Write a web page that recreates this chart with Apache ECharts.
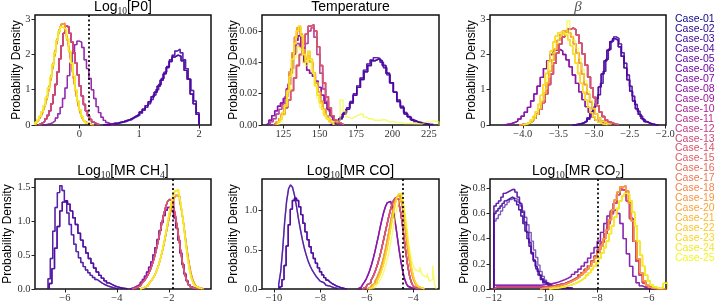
<!DOCTYPE html>
<html><head><meta charset="utf-8">
<script src="https://cdn.jsdelivr.net/npm/echarts@6/dist/echarts.min.js"></script>
<style>html,body{margin:0;padding:0;background:#fff}#c{width:718px;height:306px}</style>
</head><body><div id="c"></div>
<script>
// ---------------- DATA ----------------
const CASES = ['Case-01','Case-02','Case-03','Case-04','Case-05','Case-06','Case-07','Case-08','Case-09','Case-10','Case-11','Case-12','Case-13','Case-14','Case-15','Case-16','Case-17','Case-18','Case-19','Case-20','Case-21','Case-22','Case-23','Case-24','Case-25'];
const CASE_COLORS = ['#0d0887','#230690','#380599','#4b03a0','#5c01a4','#6d01a8','#7c07a6','#8c0ca4','#9a179d','#a82395','#b62f8c','#c13b82','#cc4778','#d5536f','#dd5f66','#e56c5c','#ec7953','#f38749','#f79540','#fba338','#fcb330','#fcc429','#fad524','#f5e723','#f0f921'];

// Log10[P0] histograms (bin start, bin width, densities)
const P0_F1 = {start:0.40, width:0.05, density:[0.01,0.02,0.03,0.05,0.06,0.08,0.10,0.13,0.16,0.20,0.25,0.30,0.37,0.45,0.55,0.66,0.80,0.93,1.10,1.27,1.45,1.63,1.80,1.93,1.98,1.95,1.82,1.55,1.30,0.88,0.60,0.30]};
const P0_F2 = {start:0.47, width:0.045, density:[0.01,0.02,0.03,0.04,0.06,0.08,0.10,0.13,0.15,0.20,0.24,0.28,0.34,0.42,0.50,0.60,0.72,0.85,1.00,1.15,1.32,1.50,1.66,1.85,1.98,2.10,2.15,2.05,1.85,1.60,1.30,0.98,0.68,0.35]};
const P0_B  = {start:-0.60, width:0.04, density:[0.01,0.02,0.04,0.07,0.12,0.20,0.32,0.50,0.75,1.05,1.40,1.75,2.05,2.28,2.38,2.35,2.20,1.85,1.60,1.32,1.00,0.75,0.52,0.35,0.22,0.13,0.07,0.04,0.02,0.01]};
const P0_CM = {start:-0.68, width:0.034, density:[0.03,0.06,0.10,0.17,0.27,0.40,0.60,0.85,1.15,1.50,1.88,2.25,2.60,2.80,2.78,2.60,2.35,2.05,1.75,1.42,1.10,0.82,0.58,0.40,0.26,0.16,0.09,0.05,0.025,0.01]};
const P0_CO = {start:-0.72, width:0.032, density:[0.06,0.12,0.20,0.30,0.45,0.62,0.85,1.12,1.42,1.75,2.10,2.42,2.68,2.85,2.88,2.75,2.50,2.20,1.85,1.50,1.15,0.82,0.55,0.35,0.20,0.11,0.06,0.03,0.015,0.005]};
const P0_CY = {start:-0.74, width:0.035, density:[0.08,0.15,0.25,0.38,0.55,0.78,1.05,1.35,1.70,2.05,2.40,2.65,2.78,2.75,2.70,2.45,2.10,1.75,1.40,1.00,0.68,0.42,0.24,0.12,0.06,0.03,0.01]};
const P0_ASSIGN = ['F1','F2','F1','F2','F1','CM','B','B','CM','CM','CM','CM','CM','CM','CO','CO','CO','CO','CO','CO','CY','CY','CY','CY','CY'];

// Temperature
const T_F1  = {start:158, width:2.5, density:[0.001,0.002,0.004,0.007,0.010,0.014,0.019,0.024,0.029,0.034,0.038,0.041,0.042,0.041,0.038,0.033,0.027,0.021,0.015,0.011,0.007,0.005,0.003,0.002,0.0015,0.001,0.0005,0.0003]};
const T_F2  = {start:157, width:2.3, density:[0.001,0.002,0.003,0.005,0.008,0.011,0.015,0.020,0.025,0.030,0.035,0.039,0.0415,0.043,0.0425,0.040,0.0365,0.032,0.027,0.021,0.016,0.012,0.008,0.0055,0.0035,0.0022,0.0014,0.0008,0.0005,0.0002]};
const T_TP  = {start:113, width:2, density:[0.001,0.003,0.006,0.009,0.012,0.014,0.017,0.023,0.033,0.045,0.054,0.057,0.050,0.040,0.035,0.033,0.031,0.028,0.024,0.019,0.014,0.010,0.006,0.003,0.0015,0.0005]};
const T_TM  = {start:118, width:2, density:[0.001,0.002,0.004,0.007,0.011,0.016,0.022,0.030,0.038,0.045,0.052,0.058,0.063,0.064,0.060,0.050,0.038,0.027,0.018,0.011,0.006,0.003,0.0015,0.0005]};
const T_TM2 = {start:116, width:2, density:[0.002,0.004,0.007,0.010,0.013,0.018,0.026,0.036,0.046,0.052,0.050,0.047,0.052,0.060,0.062,0.056,0.045,0.033,0.023,0.015,0.009,0.005,0.0025,0.001]};
const T_TO  = {start:120, width:1.8, density:[0.002,0.004,0.007,0.012,0.022,0.034,0.046,0.056,0.062,0.058,0.048,0.042,0.044,0.040,0.033,0.027,0.021,0.015,0.010,0.006,0.0035,0.0015]};
const T_TY  = {start:121, width:1.6, density:[0.002,0.004,0.008,0.013,0.021,0.031,0.042,0.052,0.060,0.063,0.057,0.045,0.040,0.047,0.042,0.033,0.025,0.019,0.014,0.010,0.006,0.004,0.002,0.001]};
const T_T25 = {start:122, width:2, density:[0.002,0.006,0.012,0.022,0.033,0.043,0.050,0.048,0.040,0.038,0.042,0.035,0.025,0.017,0.011,0.007,0.004,0.003,0.002,0.002,0.003,0.016,0.009,0.005,0.004,0.005,0.006,0.007,0.007,0.005,0.004,0.004,0.003,0.003,0.003,0.0035,0.003,0.002,0.002,0.002,0.0015,0.0015,0.001,0.001,0.001,0.001,0.0008,0.0008,0.0006,0.0015,0.002,0.002,0.0025,0.0025,0.002]};
const T_ASSIGN = ['F1','F2','F1','F2','F1','TP','TP','TP','TM2','TM','TM2','TM','TM','TM','TM','TO','TO','TO','TO','TO','TY','TY','TY','TY','T25'];

// beta
const B_F1  = {start:-3.30, width:0.04, density:[0.01,0.02,0.04,0.07,0.12,0.20,0.32,0.50,0.75,1.08,1.45,1.82,2.12,2.36,2.45,2.40,2.22,1.95,1.62,1.28,0.96,0.68,0.46,0.30,0.18,0.10,0.055,0.03,0.015,0.005]};
const B_F2  = {start:-3.28, width:0.037, density:[0.01,0.02,0.035,0.06,0.10,0.16,0.26,0.40,0.60,0.86,1.18,1.52,1.86,2.15,2.38,2.50,2.46,2.30,2.05,1.75,1.42,1.10,0.82,0.58,0.39,0.25,0.15,0.09,0.05,0.025,0.012,0.005]};
const B_BP  = {start:-4.25, width:0.045, density:[0.02,0.04,0.07,0.11,0.17,0.25,0.36,0.50,0.68,0.88,1.10,1.35,1.60,1.82,2.00,2.12,2.15,2.10,2.00,1.85,1.65,1.42,1.18,0.94,0.72,0.52,0.36,0.23,0.14,0.08,0.04,0.02]};
const B_BM  = {start:-4.05, width:0.04, density:[0.01,0.02,0.04,0.07,0.12,0.20,0.30,0.45,0.64,0.88,1.15,1.45,1.75,2.05,2.30,2.50,2.64,2.72,2.75,2.70,2.55,2.32,2.02,1.70,1.36,1.05,0.78,0.55,0.37,0.24,0.15,0.09,0.05,0.025,0.01]};
const B_BO  = {start:-4.05, width:0.038, density:[0.01,0.02,0.04,0.07,0.12,0.19,0.30,0.45,0.65,0.90,1.20,1.52,1.85,2.15,2.40,2.56,2.66,2.68,2.62,2.50,2.30,2.05,1.76,1.45,1.15,0.88,0.65,0.46,0.31,0.20,0.12,0.07,0.04,0.02]};
const B_BY  = {start:-4.0, width:0.035, density:[0.02,0.04,0.08,0.14,0.24,0.38,0.58,0.84,1.14,1.46,1.80,2.10,2.35,2.52,2.62,2.65,2.62,2.55,2.42,2.25,2.02,1.75,1.46,1.18,0.92,0.70,0.50,0.35,0.23,0.14,0.08,0.04,0.02,0.01]};
const B_B25 = {start:-3.98, width:0.04, density:[0.02,0.05,0.10,0.18,0.30,0.48,0.72,1.02,1.36,1.72,2.05,2.32,2.50,2.58,2.60,2.95,2.55,2.40,2.18,1.90,1.58,1.26,0.96,0.70,0.48,0.31,0.19,0.10,0.05,0.02]};
const B_ASSIGN = ['F1','F2','F1','F2','F1','BP','BP','BP','BM','BM','BM','BM','BM','BM','BM','BO','BO','BO','BO','BO','BY','BY','BY','BY','B25'];

// Log10[MR CH4]
const CH4_F1 = {start:-6.6, width:0.1, density:[0.08,0.30,0.60,0.92,1.15,1.28,1.30,1.25,1.15,1.05,0.95,0.82,0.72,0.62,0.53,0.45,0.38,0.31,0.25,0.20,0.16,0.12,0.09,0.07,0.05,0.035,0.025,0.015,0.01,0.005]};
const CH4_F2 = {start:-6.65, width:0.09, density:[0.15,0.45,0.85,1.20,1.42,1.52,1.45,1.30,1.12,0.95,0.80,0.66,0.55,0.46,0.39,0.33,0.28,0.24,0.20,0.17,0.14,0.115,0.09,0.07,0.055,0.04,0.03,0.02,0.012,0.006]};
const CH4_P  = {start:-3.5, width:0.08, density:[0.01,0.02,0.035,0.05,0.07,0.10,0.14,0.19,0.25,0.32,0.40,0.50,0.61,0.73,0.86,0.98,1.08,1.16,1.20,1.20,1.15,1.05,0.90,0.72,0.53,0.36,0.22,0.12,0.06,0.03,0.012,0.005]};
const CH4_M  = {start:-3.4, width:0.075, density:[0.01,0.02,0.03,0.045,0.065,0.09,0.12,0.16,0.21,0.27,0.35,0.44,0.55,0.68,0.82,0.96,1.10,1.21,1.29,1.32,1.30,1.22,1.08,0.90,0.70,0.50,0.33,0.20,0.11,0.055,0.025,0.012,0.005,0.002]};
const CH4_O  = {start:-3.1, width:0.072, density:[0.01,0.02,0.03,0.045,0.065,0.09,0.125,0.17,0.22,0.29,0.37,0.47,0.58,0.71,0.85,0.99,1.12,1.24,1.33,1.38,1.37,1.30,1.17,0.99,0.78,0.57,0.39,0.24,0.14,0.075,0.035,0.015,0.006,0.002]};
const CH4_Y  = {start:-3.1, width:0.07, density:[0.01,0.02,0.03,0.045,0.065,0.09,0.12,0.16,0.21,0.27,0.35,0.44,0.55,0.68,0.82,0.97,1.12,1.26,1.37,1.44,1.46,1.42,1.30,1.12,0.90,0.67,0.46,0.29,0.17,0.09,0.045,0.02,0.008,0.003]};
const CH4_ASSIGN = ['F1','F2','F1','F2','F1','P','P','P','M','M','M','M','M','M','M','O','O','O','O','O','Y','Y','Y','Y','Y'];

// Log10[MR CO]
const CO_F1 = {start:-9.75, width:0.09, density:[0.03,0.12,0.30,0.55,0.82,1.02,1.13,1.16,1.13,1.05,0.95,0.84,0.73,0.63,0.54,0.46,0.39,0.33,0.27,0.22,0.18,0.145,0.115,0.09,0.07,0.055,0.04,0.03,0.02,0.013,0.008,0.004]};
const CO_F2 = {start:-9.8, width:0.085, density:[0.06,0.22,0.50,0.85,1.12,1.28,1.33,1.30,1.20,1.06,0.90,0.76,0.63,0.52,0.43,0.35,0.29,0.24,0.20,0.16,0.13,0.10,0.08,0.062,0.048,0.036,0.026,0.018,0.011,0.006]};
const CO_P  = {start:-6.4, width:0.075, density:[0.01,0.02,0.04,0.06,0.09,0.13,0.18,0.24,0.31,0.39,0.48,0.58,0.68,0.79,0.89,0.98,1.05,1.10,1.12,1.10,1.04,0.94,0.80,0.64,0.48,0.34,0.22,0.13,0.07,0.035,0.016,0.007,0.003]};
const CO_M  = {start:-6.2, width:0.075, density:[0.01,0.02,0.035,0.055,0.08,0.11,0.15,0.20,0.26,0.33,0.41,0.50,0.60,0.70,0.80,0.90,0.99,1.07,1.13,1.16,1.15,1.10,0.99,0.84,0.66,0.48,0.32,0.19,0.10,0.05,0.022,0.009,0.003]};
const CO_O  = {start:-6.0, width:0.072, density:[0.01,0.018,0.03,0.048,0.07,0.10,0.14,0.19,0.25,0.32,0.40,0.49,0.60,0.71,0.83,0.94,1.04,1.12,1.18,1.20,1.17,1.08,0.94,0.77,0.59,0.43,0.30,0.19,0.12,0.07,0.038,0.019,0.009,0.004]};
const CO_Y  = {start:-5.9, width:0.07, density:[0.01,0.02,0.035,0.055,0.08,0.11,0.15,0.20,0.26,0.33,0.42,0.52,0.63,0.75,0.87,0.98,1.08,1.16,1.21,1.22,1.18,1.08,0.93,0.75,0.57,0.41,0.28,0.18,0.11,0.065,0.035,0.018,0.008,0.003]};
const CO_25 = {start:-5.8, width:0.08, density:[0.01,0.02,0.035,0.06,0.09,0.13,0.18,0.25,0.33,0.43,0.55,0.68,0.82,0.95,1.06,1.13,1.15,1.10,0.98,0.80,0.60,0.44,0.33,0.27,0.24,0.22,0.28,0.20,0.17,0.15,0.20,0.10,0.12,0.30,0.05]};
const CO_ASSIGN = ['F1','F2','F1','F2','F1','P','P','P','M','M','M','M','M','M','M','O','O','O','O','O','Y','Y','Y','Y','C25'];

// Log10[MR CO2]
const CO2_F1 = {start:-12.0, width:0.08, density:[0.60,0.62,0.64,0.66,0.68,0.70,0.71,0.72,0.73,0.72,0.70,0.67,0.63,0.58,0.52,0.46,0.40,0.34,0.28,0.23,0.18,0.14,0.11,0.08,0.06,0.045,0.035,0.028,0.022,0.018,0.015,0.013,0.011,0.010,0.009,0.008,0.007,0.006]};
const CO2_F2 = {start:-12.0, width:0.09, density:[0.66,0.68,0.70,0.73,0.76,0.77,0.78,0.79,0.79,0.77,0.73,0.68,0.61,0.53,0.45,0.37,0.29,0.22,0.16,0.11,0.075,0.05,0.035,0.025,0.02,0.016,0.013,0.011,0.01,0.009,0.008,0.007,0.006,0.005]};
const CO2_F3 = {start:-12.0, width:0.085, density:[0.54,0.56,0.59,0.62,0.65,0.67,0.69,0.71,0.72,0.72,0.71,0.69,0.66,0.62,0.57,0.51,0.45,0.38,0.31,0.25,0.19,0.14,0.10,0.07,0.05,0.035,0.026,0.02,0.016,0.013,0.011,0.009,0.008,0.007,0.006,0.005]};
const CO2_P  = {start:-12.0, width:0.125, density:[0.03,0.03,0.03,0.03,0.03,0.03,0.03,0.03,0.03,0.03,0.03,0.03,0.03,0.03,0.032,0.035,0.038,0.042,0.048,0.055,0.064,0.074,0.086,0.10,0.116,0.135,0.157,0.182,0.21,0.245,0.285,0.33,0.38,0.45,0.52,0.58,0.62,0.63,0.60,0.52,0.40,0.28,0.18,0.10,0.05,0.025,0.012,0.005,0.002,0.001]};
const CO2_M  = {start:-12.0, width:0.125, density:[0.015,0.015,0.015,0.015,0.015,0.015,0.015,0.015,0.015,0.015,0.015,0.015,0.015,0.015,0.016,0.018,0.02,0.023,0.027,0.032,0.038,0.045,0.054,0.065,0.078,0.093,0.11,0.13,0.155,0.185,0.22,0.26,0.31,0.37,0.44,0.52,0.60,0.68,0.75,0.79,0.78,0.70,0.56,0.38,0.22,0.11,0.05,0.02,0.008,0.003]};
const CO2_O  = {start:-10.2, width:0.11, density:[0.005,0.008,0.011,0.014,0.018,0.022,0.027,0.033,0.04,0.048,0.058,0.07,0.083,0.098,0.115,0.135,0.158,0.185,0.215,0.25,0.29,0.34,0.40,0.47,0.55,0.63,0.71,0.77,0.81,0.82,0.78,0.68,0.54,0.38,0.24,0.13,0.065,0.03,0.013,0.006,0.003,0.002,0.001,0.001]};
const CO2_Y  = {start:-9.85, width:0.1, density:[0.004,0.006,0.008,0.011,0.014,0.018,0.023,0.029,0.036,0.044,0.053,0.064,0.077,0.092,0.11,0.13,0.155,0.18,0.21,0.245,0.285,0.33,0.38,0.44,0.50,0.57,0.64,0.70,0.74,0.76,0.75,0.70,0.61,0.50,0.38,0.27,0.18,0.11,0.065,0.035,0.018,0.009,0.005,0.01,0.045,0.05]};
const CO2_ASSIGN = ['F1','F2','F3','F1','F2','P','P','M','M','M','M','M','M','M','O','O','O','O','O','O','Y','Y','Y','Y','Y'];

// Axis ticks and true values (dotted lines)
const P0_XTICKS = [0,1,2],              P0_YTICKS = [0,1,2,3];
const T_XTICKS  = [125,150,175,200,225], T_YTICKS = [0,0.02,0.04,0.06];
const B_XTICKS  = [-4.0,-3.5,-3.0,-2.5,-2.0], B_YTICKS = [0,1,2,3];
const CH4_XTICKS = [-6,-4,-2],          CH4_YTICKS = [0,0.5,1.0,1.5];
const CO_XTICKS  = [-10,-8,-6,-4],      CO_YTICKS = [0,0.5,1.0];
const CO2_XTICKS = [-12,-10,-8,-6],     CO2_YTICKS = [0,0.2,0.4,0.6,0.8];
const TRUTH = [0.155, null, null, -1.85, -4.45, -8.0];

// ---------------- CHART ----------------
const SANS = 'Liberation Sans', SERIF = 'Liberation Serif';
const subRich = {
  a: {fontFamily: SANS, fontSize: 14, fontWeight: 'normal', color: '#000', lineHeight: 18},
  s: {fontFamily: SERIF, fontSize: 9.5, fontWeight: 'normal', color: '#222', lineHeight: 9, verticalAlign: 'bottom'},
  g: {fontFamily: SERIF, fontStyle: 'italic', fontWeight: 'normal', fontSize: 15, color: '#555', lineHeight: 18}
};
const panels = [
  {title:'{a|Log}{s|10}{a|[P0]}', prof:{F1:P0_F1,F2:P0_F2,B:P0_B,CM:P0_CM,CO:P0_CO,CY:P0_CY}, assign:P0_ASSIGN,
   x:[-0.74,2.2], y:[0,3.12], xt:P0_XTICKS, yt:P0_YTICKS, xd:0, yd:0, g:{left:35,top:15,width:176,height:110}, ng:12},
  {title:'{a|Temperature}', prof:{F1:T_F1,F2:T_F2,TP:T_TP,TM:T_TM,TM2:T_TM2,TO:T_TO,TY:T_TY,T25:T_T25}, assign:T_ASSIGN,
   x:[110.3,232], y:[0,0.0702], xt:T_XTICKS, yt:T_YTICKS, xd:0, yd:2, g:{left:262,top:15,width:177,height:110}, ng:22.5},
  {title:'{g|β}', prof:{F1:B_F1,F2:B_F2,BP:B_BP,BM:B_BM,BO:B_BO,BY:B_BY,B25:B_B25}, assign:B_ASSIGN,
   x:[-4.46,-1.99], y:[0,3.12], xt:B_XTICKS, yt:B_YTICKS, xd:1, yd:0, g:{left:490,top:15,width:176,height:110}, ng:12},
  {title:'{a|Log}{s|10}{a|[MR CH}{s|4}{a|]}', prof:{F1:CH4_F1,F2:CH4_F2,P:CH4_P,M:CH4_M,O:CH4_O,Y:CH4_Y}, assign:CH4_ASSIGN,
   x:[-7.15,-0.38], y:[0,1.62], xt:CH4_XTICKS, yt:CH4_YTICKS, xd:0, yd:1, g:{left:35,top:179,width:176,height:110}, ng:21},
  {title:'{a|Log}{s|10}{a|[MR CO]}', prof:{F1:CO_F1,F2:CO_F2,P:CO_P,M:CO_M,O:CO_O,Y:CO_Y,C25:CO_25}, assign:CO_ASSIGN,
   x:[-10.52,-2.89], y:[0,1.405], xt:CO_XTICKS, yt:CO_YTICKS, xd:0, yd:1, g:{left:262,top:179,width:177,height:110}, ng:22},
  {title:'{a|Log}{s|10}{a|[MR CO}{s|2}{a|]}', prof:{F1:CO2_F1,F2:CO2_F2,F3:CO2_F3,P:CO2_P,M:CO2_M,O:CO2_O,Y:CO2_Y}, assign:CO2_ASSIGN,
   x:[-12.15,-5.34], y:[0,0.874], xt:CO2_XTICKS, yt:CO2_YTICKS, xd:0, yd:1, g:{left:490,top:179,width:176,height:110}, ng:19}
];

function histLine(h) {
  const pts = [[h.start, 0]];
  h.density.forEach((v, i) => pts.push([h.start + i * h.width, v]));
  pts.push([h.start + h.density.length * h.width, 0]);
  return pts;
}
function fmt(v, d) { return v.toFixed(d).replace('-', '\u2212'); }

const grids = [], xAxes = [], yAxes = [], titles = [], series = [];
panels.forEach((p, k) => {
  grids.push(Object.assign({show: true, borderColor: '#111', borderWidth: 1.5, backgroundColor: 'transparent', containLabel: false}, p.g));
  titles.push({text: p.title, left: p.g.left + p.g.width / 2, top: p.g.top - 17, textAlign: 'center',
    textStyle: {fontWeight: 'normal', rich: subRich}, padding: 0});
  const tickCommon = {show: true, length: 3.5, inside: false, lineStyle: {color: '#222', width: 1}};
  const labCommon = {fontFamily: SERIF, fontSize: 10.5, color: '#333'};
  xAxes.push({type: 'value', gridIndex: k, min: p.x[0], max: p.x[1], position: 'bottom',
    axisLine: {show: false, onZero: false}, splitLine: {show: false},
    axisTick: Object.assign({customValues: p.xt}, tickCommon),
    axisLabel: Object.assign({customValues: p.xt, margin: 4, formatter: v => fmt(v, p.xd)}, labCommon)});
  yAxes.push({type: 'value', gridIndex: k, min: p.y[0], max: p.y[1], position: 'left',
    name: 'Probability Density', nameLocation: 'middle', nameGap: p.ng, nameMoveOverlap: false,
    nameTextStyle: {fontFamily: SANS, fontSize: 12, color: '#000'},
    axisLine: {show: false, onZero: false}, splitLine: {show: false},
    axisTick: Object.assign({customValues: p.yt}, tickCommon),
    axisLabel: Object.assign({customValues: p.yt, margin: 4.5, formatter: v => fmt(v, p.yd)}, labCommon)});
  CASES.forEach((name, c) => {
    series.push({type: 'line', name: name, xAxisIndex: k, yAxisIndex: k, step: 'end',
      data: histLine(p.prof[p.assign[c]]), showSymbol: false, symbol: 'none', silent: true,
      lineStyle: {color: CASE_COLORS[c], width: 1.4, opacity: 0.65}, itemStyle: {color: CASE_COLORS[c]}, z: 2});
  });
  if (TRUTH[k] !== null) {
    series.push({type: 'line', name: 'truth' + k, xAxisIndex: k, yAxisIndex: k, data: [],
      symbol: 'none', silent: true, z: 5,
      markLine: {symbol: 'none', silent: true, animation: false, label: {show: false},
        lineStyle: {color: '#000', type: [2, 2.5], width: 1.7}, data: [{xAxis: TRUTH[k]}]}});
  }
});

const chart = echarts.init(document.getElementById('c'), null, {renderer: 'canvas'});
chart.setOption({
  animation: false,
  backgroundColor: '#fff',
  title: titles,
  grid: grids, xAxis: xAxes, yAxis: yAxes, series: series,
  legend: {orient: 'vertical', left: 670, top: 14, itemWidth: 0, itemHeight: 0, itemGap: -1.2, icon: 'rect',
    selectedMode: false, padding: 0,
    textStyle: {fontFamily: SANS, fontSize: 10.5, lineHeight: 11.125, padding: 0},
    data: CASES.map((n, i) => ({name: n, textStyle: {color: CASE_COLORS[i]}}))}
});
</script></body></html>
